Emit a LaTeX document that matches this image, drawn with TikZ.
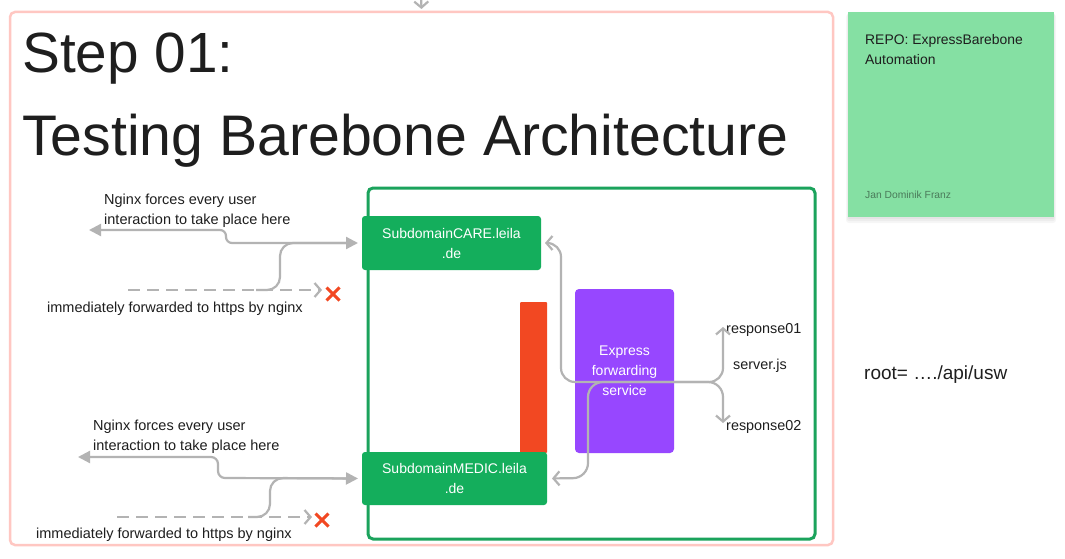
\documentclass[tikz,border=0pt]{standalone}
\usepackage{fontspec}
\setmainfont{Liberation Sans}
\usetikzlibrary{arrows.meta,shapes.misc}
\definecolor{cgray}{HTML}{B3B3B3}
\definecolor{cgreen}{HTML}{14AE5C}
\definecolor{cbord}{HTML}{1BA35C}
\definecolor{cred}{HTML}{F24822}
\definecolor{cpurple}{HTML}{9747FF}
\definecolor{cpink}{HTML}{FFC7C2}
\definecolor{cnote}{HTML}{85E0A3}
\definecolor{ctext}{HTML}{1E1E1E}
\definecolor{cauthor}{HTML}{4A7A5A}
\tikzset{
  conn/.style={draw=cgray, line width=2.2pt},
  dashline/.style={dash pattern=on 12pt off 7pt},
  chevend/.style={-{Straight Barb[length=6pt,width=14pt]}},
  chevboth/.style={{Straight Barb[length=6pt,width=14pt]}-{Straight Barb[length=6pt,width=14pt]}},
  tribothd/.style={{Triangle[length=12pt,width=12pt]}-{Triangle[length=12pt,width=12pt]}},
  box/.style={inner sep=0pt, outer sep=0pt, rounded corners=3pt},
  lbl/.style={inner sep=0pt, anchor=base west, text=ctext, font=\fontsize{14.5}{20}\selectfont},
  boxtxt/.style={text=white, align=center, font=\fontsize{14}{20}\selectfont},
  xmark/.style={cross out, draw=cred, line width=3pt, minimum size=10pt, inner sep=0pt},
  shadowlayer/.style={fill=black, opacity=0.035}
}
\begin{document}
\begin{tikzpicture}[x=1pt,y=-1pt]
\useasboundingbox (0,0) rectangle (1065,559);
\fill[white] (0,0) rectangle (1065,559);

% frame and containers
\node[box, draw=cpink, line width=2.5pt, rounded corners=5pt, minimum width=823pt, minimum height=533pt] (frame) at (421.5,278.5) {};
\coordinate (topin) at (421,-12);
\draw[conn, chevend, shorten >=3pt] (topin) -- (frame.north);

\node[box, draw=cbord, line width=3pt, rounded corners=5pt, fill=white, minimum width=447pt, minimum height=351pt] (cont) at (591.5,363.5) {};

% title
\node[inner sep=0pt, anchor=base west, text=ctext, font=\fontsize{56.7}{60}\selectfont] (t1) at (22,73) {Step 01:};
\node[inner sep=0pt, anchor=base west, text=ctext, font=\fontsize{57.2}{60}\selectfont] (t2) at (22,156) {Testing Barebone Architecture};

% boxes
\node[box, fill=cred, rounded corners=1pt, minimum width=27pt, minimum height=151pt] (bar) at (533.5,377.5) {};
\node[box, fill=cgreen, minimum width=179pt, minimum height=54pt, boxtxt] (care) at (451.5,243) {SubdomainCARE.leila\\.de};
\node[box, fill=cgreen, minimum width=185pt, minimum height=53pt, boxtxt] (medic) at (454.5,478.5) {SubdomainMEDIC.leila\\.de};
\node[box, fill=cpurple, rounded corners=4pt, minimum width=99pt, minimum height=164pt, boxtxt] (expr) at (624.5,371) {Express\\forwarding\\service};

% note with soft shadow
\fill[shadowlayer, rounded corners=3pt] (846,14) rectangle (1056,223);
\fill[shadowlayer, rounded corners=2pt] (847,13) rectangle (1055,221);
\fill[shadowlayer, rounded corners=1pt] (848,12) rectangle (1054,219);
\node[box, fill=cnote, rounded corners=0pt, minimum width=206pt, minimum height=205pt] (note) at (951,114.5) {};
\node[inner sep=0pt, anchor=base west, text=ctext, font=\fontsize{13.9}{20}\selectfont] (n1) at (865,45) {REPO: ExpressBarebone};
\node[inner sep=0pt, anchor=base west, text=ctext, font=\fontsize{13.9}{20}\selectfont] (n2) at (865,65) {Automation};
\node[inner sep=0pt, anchor=base west, text=cauthor, font=\fontsize{10.3}{12}\selectfont] (n3) at (865,198) {Jan Dominik Franz};

\node[inner sep=0pt, anchor=base west, text=ctext, font=\fontsize{19}{22}\selectfont] (root) at (864,379) {root= …./api/usw};

% right labels
\node[lbl, font=\fontsize{14.4}{20}\selectfont] (r1) at (726,333) {response01};
\node[lbl, font=\fontsize{14.4}{20}\selectfont] (sv) at (733,369) {server.js};
\node[lbl, font=\fontsize{14.4}{20}\selectfont] (r2) at (726,430) {response02};
\coordinate (tip1) at (723,327);
\coordinate (tip2) at (723,423);

\draw[conn, chevboth, rounded corners=14pt, shorten >=4pt] (tip1) -- (723,382) -- (561,382) -- (561,243) -- (care.east);
\draw[conn, chevboth, rounded corners=15pt, shorten >=5pt] (tip2) -- (723,382) -- (588,382) -- (588,478) -- (medic.east);

% upper left
\node[lbl] (ua) at (104,204) {Nginx forces every user};
\node[lbl] (ub) at (104,224) {interaction to take place here};
\node[lbl] (uc) at (47,312) {immediately forwarded to https by nginx};
\coordinate (uL) at (89,230);
\coordinate (uD) at (128,290);
\coordinate (uT) at (322,290);
\coordinate (uJ) at (256,290);
\node[xmark] (ux) at (333,294) {};
\draw[conn, dashline, chevend] (uD) -- (uT);
\draw[conn, rounded corners=13pt, shorten >=10pt] (uJ) -- (280,290) -- (280,243) -- (care.west);
\draw[conn, tribothd, rounded corners=6pt, shorten >=4pt] (uL) -- (226,230) -- (226,243) -- (care.west);

% lower left
\node[lbl] (la) at (93,430) {Nginx forces every user};
\node[lbl] (lb) at (93,450) {interaction to take place here};
\node[lbl] (lc) at (36,538) {immediately forwarded to https by nginx};
\coordinate (lL) at (78,457);
\coordinate (lD) at (117,517);
\coordinate (lT) at (312,517);
\coordinate (lJ) at (248,517);
\node[xmark] (lx) at (322,520) {};
\draw[conn, dashline, chevend] (lD) -- (lT);
\draw[conn, rounded corners=13pt, shorten >=10pt] (lJ) -- (270,517) -- (270,478) -- (medic.west);
\draw[conn, tribothd, rounded corners=7pt, shorten >=4pt] (lL) -- (218,457) -- (218,478) -- (medic.west);
\end{tikzpicture}
\end{document}
